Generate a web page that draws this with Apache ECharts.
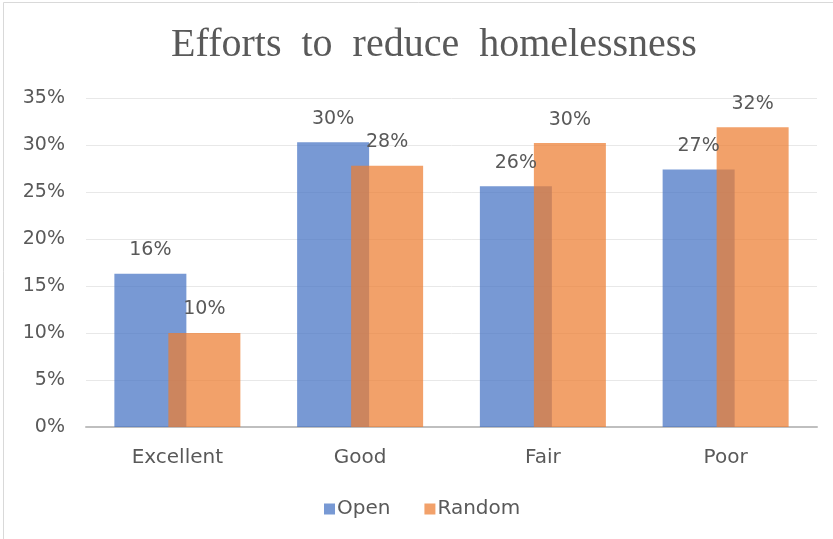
<!DOCTYPE html>
<html>
<head>
<meta charset="utf-8">
<script src="https://cdn.jsdelivr.net/npm/echarts@6/dist/echarts.min.js"></script>
<style>
  html, body { margin: 0; padding: 0; background: #ffffff; }
  #chart { width: 833px; height: 539px; }
</style>
</head>
<body>
<div id="chart"></div>
<script>
// Ratings of efforts to reduce homelessness, by sample type (percent)
const categories = ['Excellent', 'Good', 'Fair', 'Poor'];
const openValues = [16.3, 30.3, 25.6, 27.4];
const randomValues = [10.0, 27.8, 30.2, 31.9];
const yTicks = { min: 0, max: 35, interval: 5 };

const textColor = '#595959';
const uiFont = 'DejaVu Sans';

const chart = echarts.init(document.getElementById('chart'), null, { renderer: 'canvas' });

const valueLabel = {
  show: true,
  position: 'top',
  distance: 14,
  color: textColor,
  fontFamily: uiFont,
  fontSize: 19,
  formatter: p => Math.round(p.value) + '%'
};

chart.setOption({
  animation: false,
  backgroundColor: '#ffffff',
  graphic: [{
    type: 'rect',
    shape: { x: 3.5, y: 2.5, width: 900, height: 600 },
    style: { fill: 'none', stroke: '#d9d9d9', lineWidth: 1 },
    silent: true
  }],
  title: {
    // wide word spacing as in the chart heading
    text: 'Efforts  to  reduce  homelessness',
    left: 429,
    top: 20,
    textAlign: 'center',
    textStyle: {
      fontFamily: 'Liberation Serif',
      fontWeight: 'normal',
      fontSize: 40,
      color: textColor
    }
  },
  legend: {
    data: ['Open', 'Random'],
    left: 319,
    top: 494,
    itemWidth: 11,
    itemHeight: 11,
    itemGap: 34,
    icon: 'rect',
    textStyle: { color: textColor, fontFamily: uiFont, fontSize: 20, padding: [0, 0, 0, -3] }
  },
  grid: { left: 86, right: 16, top: 98, bottom: 112, containLabel: false },
  xAxis: {
    type: 'category',
    data: categories,
    axisTick: { show: false },
    axisLine: { lineStyle: { color: '#bfbfbf', width: 2 } },
    axisLabel: { color: textColor, fontFamily: uiFont, fontSize: 20, margin: 21 }
  },
  yAxis: {
    type: 'value',
    min: yTicks.min,
    max: yTicks.max,
    interval: yTicks.interval,
    axisLine: { show: false },
    axisTick: { show: false },
    splitLine: { lineStyle: { color: '#e8e8e8', width: 1 } },
    axisLabel: { color: textColor, fontFamily: uiFont, fontSize: 19, margin: 21, formatter: '{value}%' }
  },
  series: [
    {
      name: 'Open',
      type: 'bar',
      data: openValues,
      barWidth: 72,
      barGap: '-25%',
      itemStyle: { color: 'rgba(68,114,196,0.72)' },
      label: valueLabel
    },
    {
      name: 'Random',
      type: 'bar',
      data: randomValues,
      barWidth: 72,
      itemStyle: { color: 'rgba(237,125,49,0.72)' },
      label: valueLabel
    }
  ]
});
</script>
</body>
</html>
